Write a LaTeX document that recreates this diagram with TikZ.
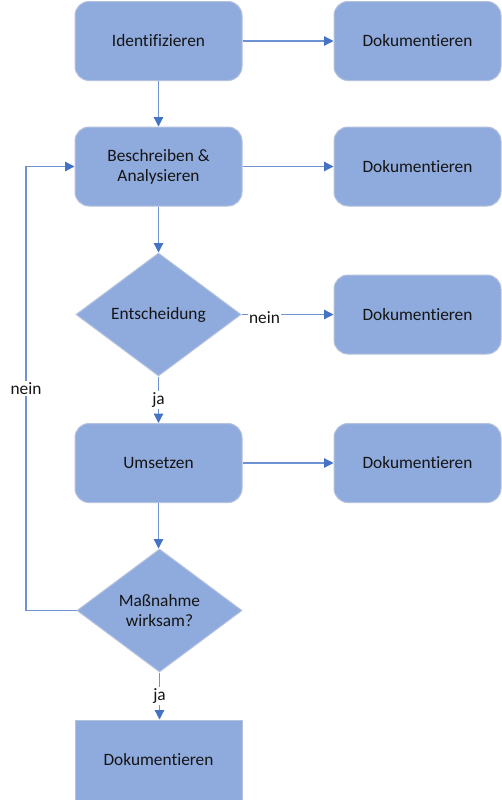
\documentclass[tikz,border=0pt]{standalone}
\usepackage{fontspec}
\setmainfont{Carlito}[RawFeature={-liga;-clig;-calt;-dlig}]
\usetikzlibrary{shapes.geometric,arrows.meta}
\definecolor{boxfill}{HTML}{8FAADC}
\definecolor{boxline}{HTML}{B4C2DE}
\definecolor{conn}{HTML}{6F92D4}
\definecolor{tipc}{HTML}{4472C4}
\definecolor{txt}{HTML}{151515}
\begin{document}
\begin{tikzpicture}[x=0.75pt,y=-0.75pt,
  every node/.style={font=\fontsize{13}{15}\selectfont, text=txt},
  rbox/.style={rectangle, rounded corners=10.5pt, fill=boxfill, draw=boxline, line width=0.75pt,
    minimum width=125.25pt, minimum height=59.25pt, inner sep=0pt, align=center},
  sbox/.style={rectangle, fill=boxfill, draw=boxline, line width=0.75pt,
    minimum width=125.25pt, minimum height=60pt, inner sep=0pt, align=center},
  dbox/.style={diamond, fill=boxfill, draw=boxline, line width=0.75pt,
    minimum width=123.75pt, minimum height=92.25pt, inner sep=0pt, align=center},
  conn/.style={draw=conn, line width=0.9pt, -{Triangle[length=7pt,width=7pt,color=tipc]}},
  lab/.style={fill=white, inner sep=1pt}
]
\useasboundingbox (0,0) rectangle (502,800);
\node[rbox] (id) at (158.5,41) {Identifizieren};
\node[rbox] (d1) at (417.5,41) {Dokumentieren};
\node[rbox] (bes) at (158.5,166.5) {Beschreiben \&\\Analysieren};
\node[rbox] (d2) at (417.5,166.5) {Dokumentieren};
\node[dbox] (ent) at (158.5,314.5) {Entscheidung};
\node[rbox] (d3) at (417.5,314.5) {Dokumentieren};
\node[rbox] (ums) at (158.5,463) {Umsetzen};
\node[rbox] (d4) at (417.5,463) {Dokumentieren};
\node[dbox] (mas) at (159.5,610.5) {Maßnahme\\wirksam?};
\node[sbox] (fin) at (158.5,760) {Dokumentieren};
\coordinate (loop) at (26,610.5);

\draw[conn] (id) -- (d1);
\draw[conn] (id) -- (bes);
\draw[conn] (bes) -- (d2);
\draw[conn] (bes) -- (ent);
\draw[conn] (ent) -- node[lab, pos=0.25, yshift=-2pt] {nein} (d3);
\draw[conn] (ent) -- node[lab, pos=0.5] {ja} (ums);
\draw[conn] (ums) -- (d4);
\draw[conn] (ums.south) -- (ums.south |- mas.north);
\draw[conn] (mas.south) -- node[lab, pos=0.5] {ja} (mas.south |- fin.north);
\draw[conn] (mas.west) -- (loop) |- node[lab, pos=0.25] {nein} (bes.west);
\end{tikzpicture}
\end{document}
